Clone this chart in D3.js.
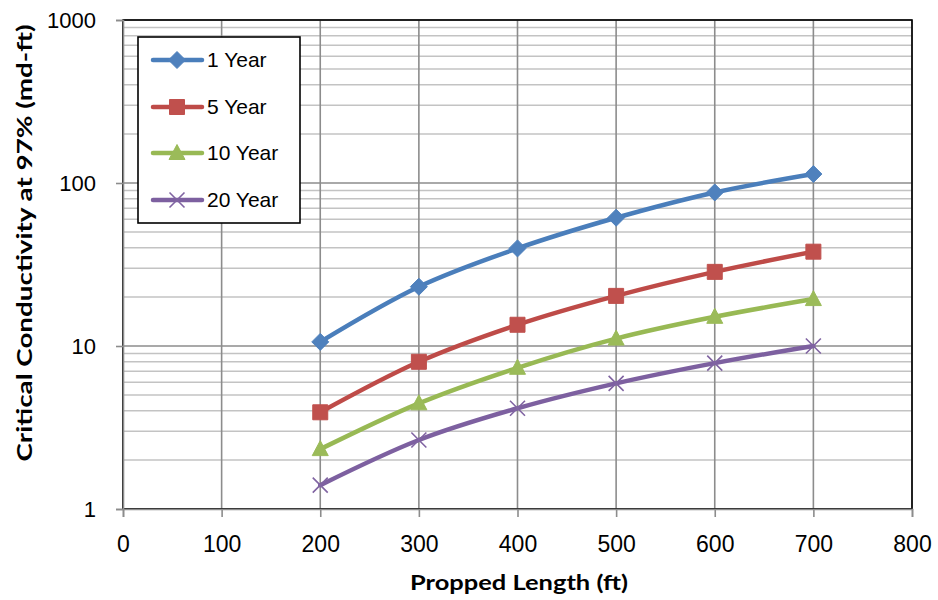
<!DOCTYPE html>
<html>
<head>
<meta charset="utf-8">
<script src="https://cdn.jsdelivr.net/npm/d3@7"></script>
<style>
  html, body { margin: 0; padding: 0; background: #fff; }
  svg { display: block; }
</style>
</head>
<body>
<svg id="chart" width="938" height="600"></svg>
<script>
// Propped length (ft) at which each point was evaluated
const lengths = [200, 300, 400, 500, 600, 700];

// Critical conductivity at 97% (md-ft) per production horizon
const oneYear    = [10.6, 23.1, 39.7, 61.2, 87.5, 113.5];
const fiveYear   = [3.92, 8.0, 13.5, 20.3, 28.5, 37.9];
const tenYear    = [2.33, 4.45, 7.35, 11.1, 15.1, 19.4];
const twentyYear = [1.40, 2.65, 4.15, 5.9, 7.85, 10.0];

const seriesNames = ["1 Year", "5 Year", "10 Year", "20 Year"];

// Axis ticks
const xTicks = [0, 100, 200, 300, 400, 500, 600, 700, 800];
const yTicks = [1, 10, 100, 1000];

const seriesStyle = [
  { line: "#4A7EBB", fill: "#4F81BD", marker: "diamond" },
  { line: "#BE4B48", fill: "#C0504D", marker: "square" },
  { line: "#98B954", fill: "#9BBB59", marker: "triangle" },
  { line: "#7D60A0", fill: "#8064A2", marker: "x" }
];

const seriesValues = [oneYear, fiveYear, tenYear, twentyYear];
const series = seriesNames.map((name, i) => ({
  name,
  style: seriesStyle[i],
  points: lengths.map((x, j) => ({ x, y: seriesValues[i][j] }))
}));

const plot = { left: 123, right: 912, top: 20, bottom: 509 };

const svg = d3.select("#chart");

const x = d3.scaleLinear().domain([0, 800]).range([plot.left, plot.right]);
const y = d3.scaleLog().domain([1, 1000]).range([plot.bottom, plot.top]);

// Marker outlines centred on the origin
function markerPath(type) {
  switch (type) {
    case "diamond": return "M0,-8.5L8.5,0L0,8.5L-8.5,0Z";
    case "square": return "M-7.5,-7.5H7.5V7.5H-7.5Z";
    case "triangle": return "M0,-8.5L8,6.5H-8Z";
    case "x": return "M-7.5,-7.5L7.5,7.5M7.5,-7.5L-7.5,7.5";
  }
}

function drawMarker(sel, style) {
  if (style.marker === "x") {
    sel.attr("d", markerPath("x"))
      .attr("fill", "none")
      .attr("stroke", style.fill)
      .attr("stroke-width", 1.6);
  } else {
    sel.attr("d", markerPath(style.marker))
      .attr("fill", style.fill)
      .attr("stroke", style.fill)
      .attr("stroke-width", 1);
  }
}

// Minor horizontal gridlines (2..9 within each decade)
const minor = y.ticks().filter(v => !yTicks.includes(v));
svg.append("g")
  .selectAll("line")
  .data(minor)
  .join("line")
  .attr("x1", plot.left).attr("x2", plot.right)
  .attr("y1", d => y(d)).attr("y2", d => y(d))
  .attr("stroke", "#C3C3C3")
  .attr("stroke-width", 1.5);

// Major horizontal gridlines
svg.append("g")
  .selectAll("line")
  .data(yTicks)
  .join("line")
  .attr("x1", plot.left).attr("x2", plot.right)
  .attr("y1", d => y(d)).attr("y2", d => y(d))
  .attr("stroke", "#8C8C8C")
  .attr("stroke-width", 1.6);

// Vertical gridlines
svg.append("g")
  .selectAll("line")
  .data(xTicks)
  .join("line")
  .attr("x1", d => x(d)).attr("x2", d => x(d))
  .attr("y1", plot.top).attr("y2", plot.bottom)
  .attr("stroke", "#8C8C8C")
  .attr("stroke-width", 1.6);

// Plot-area border
svg.append("rect")
  .attr("x", plot.left).attr("y", plot.top)
  .attr("width", plot.right - plot.left)
  .attr("height", plot.bottom - plot.top)
  .attr("fill", "none")
  .attr("stroke", "#000")
  .attr("stroke-width", 1.6);

// Y axis
const yAxis = svg.append("g")
  .attr("transform", `translate(${plot.left},0)`)
  .call(d3.axisLeft(y).tickValues(yTicks).tickFormat(d3.format("d")).tickSize(7).tickPadding(20));
yAxis.select(".domain").attr("stroke", "#8C8C8C").attr("stroke-width", 1.6);
yAxis.selectAll(".tick line").attr("stroke", "#8C8C8C").attr("stroke-width", 1.6);
yAxis.selectAll(".tick text")
  .attr("font-family", "'Liberation Sans', Arial, sans-serif")
  .attr("font-size", 22)
  .attr("fill", "#000")
  .attr("dy", "0.35em");

// X axis
const xAxis = svg.append("g")
  .attr("transform", `translate(0,${plot.bottom})`)
  .call(d3.axisBottom(x).tickValues(xTicks).tickFormat(d3.format("d")).tickSize(8));
xAxis.select(".domain").attr("stroke", "#8C8C8C").attr("stroke-width", 1.6);
xAxis.selectAll(".tick line").attr("stroke", "#8C8C8C").attr("stroke-width", 1.6);
xAxis.selectAll(".tick text")
  .attr("font-family", "'Liberation Sans', Arial, sans-serif")
  .attr("font-size", 23)
  .attr("fill", "#000")
  .attr("y", 43)
  .attr("dy", 0);

// Series lines
const line = d3.line()
  .x(d => x(d.x))
  .y(d => y(d.y))
  .curve(d3.curveCatmullRom.alpha(0.5));

const gSeries = svg.append("g");
series.forEach(s => {
  gSeries.append("path")
    .datum(s.points)
    .attr("d", line)
    .attr("fill", "none")
    .attr("stroke", s.style.line)
    .attr("stroke-width", 4.5)
    .attr("stroke-linejoin", "round")
    .attr("stroke-linecap", "round");
});
series.forEach(s => {
  gSeries.append("g")
    .selectAll("path")
    .data(s.points)
    .join("path")
    .attr("transform", d => `translate(${x(d.x)},${y(d.y)})`)
    .call(drawMarker, s.style);
});

// Legend
const legend = svg.append("g");
legend.append("rect")
  .attr("x", 138).attr("y", 37)
  .attr("width", 162).attr("height", 186)
  .attr("fill", "#fff")
  .attr("stroke", "#000")
  .attr("stroke-width", 1.6);

const legendRowY = [60, 107, 153, 200];
series.forEach((s, i) => {
  const row = legend.append("g").attr("transform", `translate(0,${legendRowY[i]})`);
  row.append("line")
    .attr("x1", 153).attr("x2", 202)
    .attr("y1", 0).attr("y2", 0)
    .attr("stroke", s.style.line)
    .attr("stroke-width", 4.5)
    .attr("stroke-linecap", "round");
  row.append("path")
    .attr("transform", "translate(177,0)")
    .call(drawMarker, s.style);
  row.append("text")
    .attr("x", 207)
    .attr("y", 0)
    .attr("dy", "0.35em")
    .attr("font-family", "'Liberation Sans', Arial, sans-serif")
    .attr("font-size", 21)
    .attr("fill", "#000")
    .text(s.name);
});

// Axis titles
svg.append("text")
  .attr("x", 519)
  .attr("y", 590)
  .attr("text-anchor", "middle")
  .attr("font-family", "Lato, 'Open Sans', sans-serif")
  .attr("font-weight", 700)
  .attr("font-size", 21)
  .attr("textLength", 218)
  .attr("lengthAdjust", "spacingAndGlyphs")
  .attr("fill", "#000")
  .text("Propped Length (ft)");

svg.append("text")
  .attr("transform", "translate(32,243) rotate(-90)")
  .attr("text-anchor", "middle")
  .attr("font-family", "Lato, 'Open Sans', sans-serif")
  .attr("font-weight", 700)
  .attr("font-size", 21)
  .attr("textLength", 437)
  .attr("lengthAdjust", "spacingAndGlyphs")
  .attr("fill", "#000")
  .text("Critical Conductivity at 97% (md-ft)");
</script>
</body>
</html>
